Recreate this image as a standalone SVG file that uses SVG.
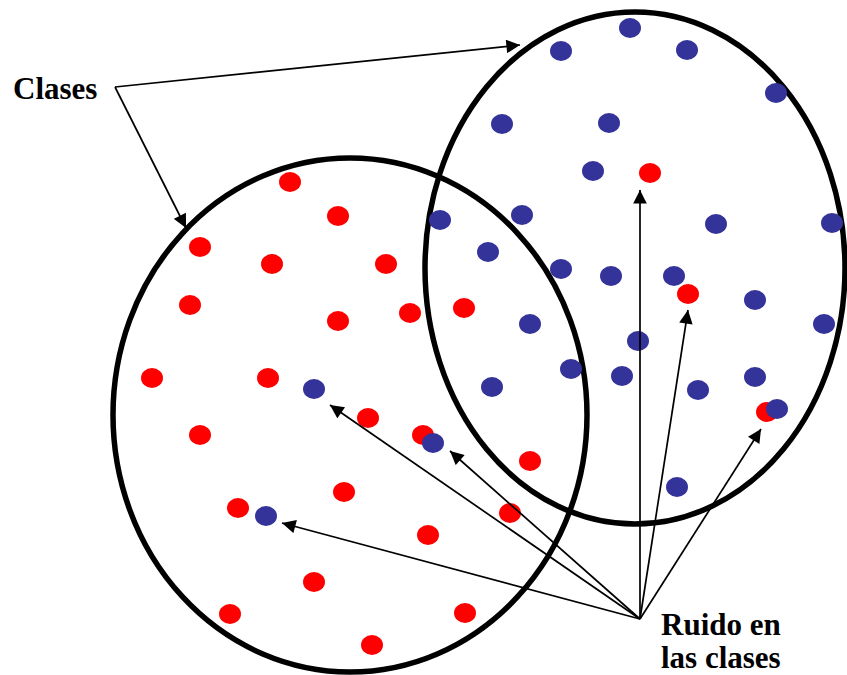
<svg xmlns="http://www.w3.org/2000/svg" width="847" height="675" viewBox="0 0 847 675">
<style>
.ring{fill:none;stroke:#000;stroke-width:5.5}
.r{fill:#ff0000}
.b{fill:#333399}
.arr{stroke:#000;stroke-width:1.7;fill:none;marker-end:url(#ah)}
.lbl{font-family:"Liberation Serif","Times New Roman",serif;font-weight:bold;font-size:31px;fill:#000}
</style>
<defs>
<marker id="ah" viewBox="0 0 10 10" refX="10" refY="5" markerWidth="9" markerHeight="8" markerUnits="strokeWidth" orient="auto">
<path d="M0,0 L10,5 L0,10 z" fill="#000"/>
</marker>
</defs>
<rect width="847" height="675" fill="#fff"/>
<g id="class-a">
<ellipse class="ring" cx="350" cy="415" rx="237" ry="257"/>
</g>
<g id="class-b">
<ellipse class="ring" cx="635" cy="268" rx="210" ry="256"/>
</g>
<g id="dots-red">
<ellipse class="r" cx="290" cy="182" rx="11" ry="10"/>
<ellipse class="r" cx="338" cy="216" rx="11" ry="10"/>
<ellipse class="r" cx="200" cy="247" rx="11" ry="10"/>
<ellipse class="r" cx="272" cy="264" rx="11" ry="10"/>
<ellipse class="r" cx="386" cy="264" rx="11" ry="10"/>
<ellipse class="r" cx="190" cy="305" rx="11" ry="10"/>
<ellipse class="r" cx="338" cy="321" rx="11" ry="10"/>
<ellipse class="r" cx="410" cy="313" rx="11" ry="10"/>
<ellipse class="r" cx="464" cy="308" rx="11" ry="10"/>
<ellipse class="r" cx="152" cy="378" rx="11" ry="10"/>
<ellipse class="r" cx="268" cy="378" rx="11" ry="10"/>
<ellipse class="r" cx="368" cy="418" rx="11" ry="10"/>
<ellipse class="r" cx="200" cy="435" rx="11" ry="10"/>
<ellipse class="r" cx="423" cy="435" rx="11" ry="10"/>
<ellipse class="r" cx="530" cy="461" rx="11" ry="10"/>
<ellipse class="r" cx="344" cy="492" rx="11" ry="10"/>
<ellipse class="r" cx="238" cy="508" rx="11" ry="10"/>
<ellipse class="r" cx="510" cy="513" rx="11" ry="10"/>
<ellipse class="r" cx="428" cy="535" rx="11" ry="10"/>
<ellipse class="r" cx="314" cy="582" rx="11" ry="10"/>
<ellipse class="r" cx="230" cy="614" rx="11" ry="10"/>
<ellipse class="r" cx="465" cy="613" rx="11" ry="10"/>
<ellipse class="r" cx="372" cy="645" rx="11" ry="10"/>
<ellipse class="r" cx="650" cy="173" rx="11" ry="10"/>
<ellipse class="r" cx="688" cy="294" rx="11" ry="10"/>
<ellipse class="r" cx="767" cy="412" rx="11" ry="10"/>
</g>
<g id="dots-blue">
<ellipse class="b" cx="630" cy="28" rx="11" ry="10"/>
<ellipse class="b" cx="561" cy="51" rx="11" ry="10"/>
<ellipse class="b" cx="687" cy="50" rx="11" ry="10"/>
<ellipse class="b" cx="776" cy="93" rx="11" ry="10"/>
<ellipse class="b" cx="502" cy="124" rx="11" ry="10"/>
<ellipse class="b" cx="609" cy="123" rx="11" ry="10"/>
<ellipse class="b" cx="593" cy="171" rx="11" ry="10"/>
<ellipse class="b" cx="440" cy="220" rx="11" ry="10"/>
<ellipse class="b" cx="522" cy="215" rx="11" ry="10"/>
<ellipse class="b" cx="716" cy="224" rx="11" ry="10"/>
<ellipse class="b" cx="832" cy="223" rx="11" ry="10"/>
<ellipse class="b" cx="488" cy="252" rx="11" ry="10"/>
<ellipse class="b" cx="561" cy="269" rx="11" ry="10"/>
<ellipse class="b" cx="611" cy="276" rx="11" ry="10"/>
<ellipse class="b" cx="674" cy="276" rx="11" ry="10"/>
<ellipse class="b" cx="755" cy="300" rx="11" ry="10"/>
<ellipse class="b" cx="824" cy="324" rx="11" ry="10"/>
<ellipse class="b" cx="530" cy="324" rx="11" ry="10"/>
<ellipse class="b" cx="638" cy="341" rx="11" ry="10"/>
<ellipse class="b" cx="571" cy="369" rx="11" ry="10"/>
<ellipse class="b" cx="622" cy="376" rx="11" ry="10"/>
<ellipse class="b" cx="492" cy="387" rx="11" ry="10"/>
<ellipse class="b" cx="698" cy="390" rx="11" ry="10"/>
<ellipse class="b" cx="755" cy="377" rx="11" ry="10"/>
<ellipse class="b" cx="777" cy="409" rx="11" ry="10"/>
<ellipse class="b" cx="677" cy="487" rx="11" ry="10"/>
<ellipse class="b" cx="314" cy="389" rx="11" ry="10"/>
<ellipse class="b" cx="433" cy="443" rx="11" ry="10"/>
<ellipse class="b" cx="266" cy="516" rx="11" ry="10"/>
</g>
<g id="connectors">
<line class="arr" x1="115" y1="87" x2="520" y2="45"/>
<line class="arr" x1="115" y1="87" x2="186" y2="228"/>
<line class="arr" x1="640" y1="619" x2="640" y2="190"/>
<line class="arr" x1="640" y1="619" x2="688" y2="310"/>
<line class="arr" x1="640" y1="619" x2="761" y2="429"/>
<line class="arr" x1="640" y1="619" x2="450" y2="451"/>
<line class="arr" x1="640" y1="619" x2="330" y2="405"/>
<line class="arr" x1="640" y1="619" x2="282" y2="523"/>
</g>
<g id="label-clases">
<text class="lbl" x="13" y="99">Clases</text>
</g>
<g id="label-ruido">
<text class="lbl" x="661" y="635">Ruido en</text>
<text class="lbl" x="661" y="668">las clases</text>
</g>
</svg>
